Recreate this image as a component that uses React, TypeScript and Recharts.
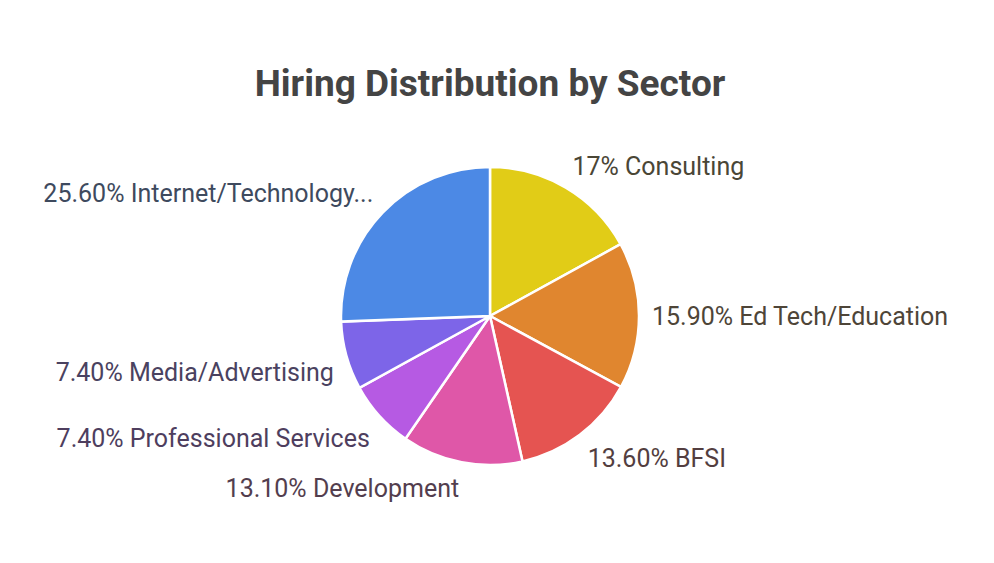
import React from "react";
import { PieChart, Pie, Cell } from "recharts";

const sectors = [
  "Consulting",
  "Ed Tech/Education",
  "BFSI",
  "Development",
  "Professional Services",
  "Media/Advertising",
  "Internet/Technology...",
];
const shares = [17, 15.9, 13.6, 13.1, 7.4, 7.4, 25.6];
const shareLabels = ["17%", "15.90%", "13.60%", "13.10%", "7.40%", "7.40%", "25.60%"];
const sliceColors = ["#E1CC17", "#E0862F", "#E55451", "#DF57A8", "#B65AE3", "#7D65E8", "#4C89E5"];
const labelColors = ["#4A4636", "#4E4538", "#533E40", "#533E4E", "#4E3E5E", "#4A4260", "#3E4A5E"];

const data = sectors.map((name, i) => ({ name, value: shares[i], label: shareLabels[i] }));

const RAD = Math.PI / 180;

const renderLabel = (props: any) => {
  const { cx, cy, midAngle, outerRadius, index } = props;
  const r = outerRadius + 13;
  const c = Math.cos(-midAngle * RAD);
  const s = Math.sin(-midAngle * RAD);
  const x = cx + r * c;
  const y = cy + r * s;
  const off = 12 * Math.max(-1, Math.min(1, s * 5)) + 1.5;
  const d = data[index];
  return (
    <text
      x={x}
      y={y + off}
      textAnchor={c >= 0 ? "start" : "end"}
      dominantBaseline="central"
      fill={labelColors[index]}
      fontSize={25}
      fontFamily="Roboto"
    >
      {`${d.label} ${d.name}`}
    </text>
  );
};

export default function App() {
  return (
    <div style={{ position: "fixed", left: 0, top: 0, width: 994, height: 563, background: "#fff" }}>
      <div
        style={{
          position: "absolute",
          left: 0,
          width: 980,
          top: 62,
          textAlign: "center",
          fontFamily: "Roboto",
          fontWeight: 700,
          fontSize: 37,
          color: "#444444",
          lineHeight: "44px",
        }}
      >
        Hiring Distribution by Sector
      </div>
      <PieChart
        width={994}
        height={563}
        margin={{ top: 0, right: 0, bottom: 0, left: 0 }}
        style={{ position: "absolute", left: 0, top: 0 }}
      >
        <Pie
          data={data}
          dataKey="value"
          nameKey="name"
          cx={490}
          cy={316}
          outerRadius={149}
          startAngle={90}
          endAngle={-270}
          stroke="#ffffff"
          strokeWidth={2.5}
          label={renderLabel}
          labelLine={false}
          isAnimationActive={false}
        >
          {data.map((d, i) => (
            <Cell key={d.name} fill={sliceColors[i]} />
          ))}
        </Pie>
      </PieChart>
    </div>
  );
}
